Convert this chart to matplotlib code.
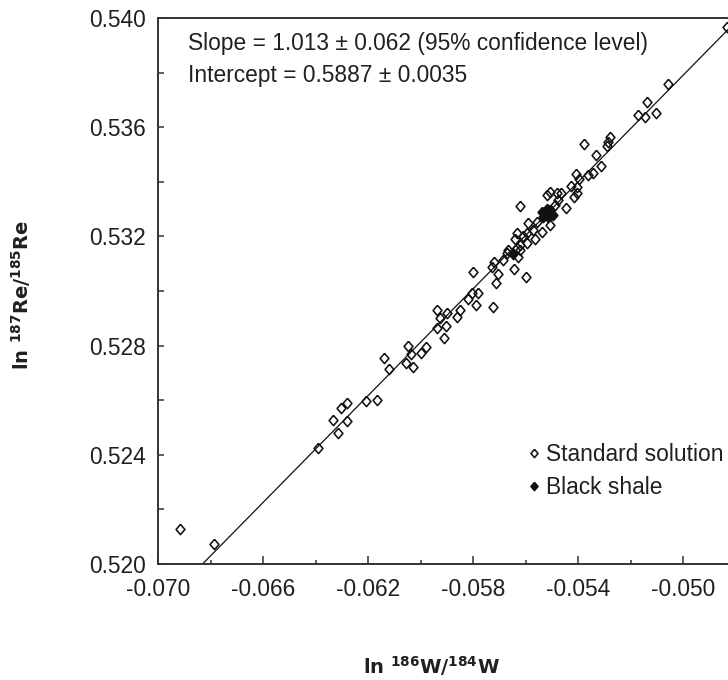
import matplotlib
matplotlib.use("Agg")
import matplotlib.pyplot as plt
import numpy as np
from matplotlib.ticker import FixedLocator, FormatStrFormatter

# ---------------- data ----------------
std_x = [-0.06916, -0.06787, -0.06390, -0.06333, -0.06314, -0.06303, -0.06280, -0.06280,
         -0.06208, -0.06166, -0.06139, -0.06120, -0.06055, -0.06048, -0.06036, -0.06029,
         -0.05998, -0.05979, -0.05937, -0.05926, -0.05937, -0.05911, -0.05903, -0.05899,
         -0.05861, -0.05850, -0.05819, -0.05804, -0.05781, -0.05789, -0.05800, -0.05724,
         -0.05728, -0.05720, -0.05705, -0.05712, -0.05686, -0.05644, -0.05670, -0.05598,
         -0.05621, -0.05632, -0.05667, -0.05629, -0.05621, -0.05632, -0.05640, -0.05610,
         -0.05594, -0.05571, -0.05594, -0.05564, -0.05537, -0.05507, -0.05590, -0.05556,
         -0.05621, -0.05488, -0.05476, -0.05518, -0.05507, -0.05480, -0.05465, -0.05446,
         -0.05415, -0.05404, -0.05427, -0.05404, -0.05408, -0.05396, -0.05362, -0.05343,
         -0.05312, -0.05331, -0.05377, -0.05290, -0.05286, -0.05278, -0.05171, -0.05145,
         -0.05137, -0.05103, -0.05057, -0.04832]
std_y = [0.52128, 0.52073, 0.52425, 0.52527, 0.52480, 0.52571, 0.52590, 0.52524,
         0.52597, 0.52601, 0.52755, 0.52714, 0.52736, 0.52799, 0.52769, 0.52722,
         0.52773, 0.52795, 0.52930, 0.52901, 0.52864, 0.52828, 0.52872, 0.52919,
         0.52905, 0.52930, 0.52971, 0.52993, 0.52993, 0.52949, 0.53070, 0.52941,
         0.53088, 0.53106, 0.53062, 0.53029, 0.53114, 0.53081, 0.53139, 0.53051,
         0.53168, 0.53158, 0.53150, 0.53125, 0.53150, 0.53212, 0.53190, 0.53201,
         0.53212, 0.53223, 0.53176, 0.53190, 0.53216, 0.53242, 0.53249, 0.53253,
         0.53311, 0.53315, 0.53333, 0.53352, 0.53363, 0.53359, 0.53359, 0.53304,
         0.53344, 0.53359, 0.53385, 0.53381, 0.53429, 0.53410, 0.53425, 0.53432,
         0.53458, 0.53498, 0.53538, 0.53531, 0.53546, 0.53564, 0.53645, 0.53637,
         0.53692, 0.53652, 0.53758, 0.53967]

shale_x = [-0.05537, -0.05507, -0.05514, -0.05495, -0.05533, -0.05520, -0.05648]
shale_y = [0.53289, 0.53297, 0.53271, 0.53278, 0.53271, 0.53300, 0.53136]

line_slope = 0.978
line_intercept = 0.5868

xlim = (-0.070, -0.048)
ylim = (0.520, 0.540)
x_major = [-0.070, -0.066, -0.062, -0.058, -0.054, -0.050]
x_minor = [-0.068, -0.064, -0.060, -0.056, -0.052]
y_major = [0.520, 0.524, 0.528, 0.532, 0.536, 0.540]
y_minor = [0.522, 0.526, 0.530, 0.534, 0.538]

annot_lines = ["Slope = 1.013 \u00b1 0.062 (95% confidence level)",
               "Intercept = 0.5887 \u00b1 0.0035"]
legend_labels = ["Standard solution", "Black shale"]
xlabel = r"$\mathbf{ln}\ {}^{\mathbf{186}}\mathbf{W/}{}^{\mathbf{184}}\mathbf{W}$"
ylabel = r"$\mathbf{ln}\ {}^{\mathbf{187}}\mathbf{Re/}{}^{\mathbf{185}}\mathbf{Re}$"

# ---------------- style ----------------
TXT = "#231f20"
plt.rcParams["font.family"] = ["Liberation Sans", "DejaVu Sans"]
plt.rcParams["mathtext.fontset"] = "custom"
plt.rcParams["mathtext.bf"] = "DejaVu Sans:bold"
plt.rcParams["mathtext.rm"] = "DejaVu Sans"

W, H = 728, 680
fig = plt.figure(figsize=(W / 100, H / 100), dpi=100)
left_px, bottom_px, top_px = 158, 564, 18
right_px = left_px + (xlim[1] - xlim[0]) / (0.004 / 105.0)
ax = fig.add_axes([left_px / W, 1 - bottom_px / H,
                   (right_px - left_px) / W, (bottom_px - top_px) / H])
ax.set_xlim(*xlim)
ax.set_ylim(*ylim)

diamond = [(0, 1), (0.86, 0), (0, -1), (-0.86, 0), (0, 1)]

xx = np.array(xlim)
ax.plot(xx, line_slope * xx + line_intercept, color="#111111", lw=0.9, zorder=2)

ax.plot(std_x, std_y, linestyle="none", marker=diamond, markersize=7.4,
        markerfacecolor="none", markeredgecolor="#111111", markeredgewidth=1.15,
        zorder=3, label=legend_labels[0])
ax.plot(shale_x, shale_y, linestyle="none", marker=diamond, markersize=7.4,
        markerfacecolor="#111111", markeredgecolor="#111111", markeredgewidth=1.15,
        zorder=4, label=legend_labels[1])

for sp in ax.spines.values():
    sp.set_linewidth(1.4)
    sp.set_color("#333333")

ax.xaxis.set_major_locator(FixedLocator(x_major))
ax.xaxis.set_minor_locator(FixedLocator(x_minor))
ax.yaxis.set_major_locator(FixedLocator(y_major))
ax.yaxis.set_minor_locator(FixedLocator(y_minor))
ax.xaxis.set_major_formatter(FormatStrFormatter("%.3f"))
ax.yaxis.set_major_formatter(FormatStrFormatter("%.3f"))
ax.tick_params(axis="both", which="both", direction="in", colors="#333333",
               labelcolor=TXT, labelsize=16.4, width=1.1)
ax.tick_params(axis="x", which="major", length=5.5, pad=10)
ax.tick_params(axis="x", which="minor", length=3)
ax.tick_params(axis="y", which="major", length=4.5, pad=9)
ax.tick_params(axis="y", which="minor", length=4.5)
ax.tick_params(top=False, right=False, which="both")

ax.text(0.052, 0.9414, annot_lines[0], transform=ax.transAxes, fontsize=16.4,
        color=TXT, va="baseline", ha="left")
ax.text(0.052, 0.8828, annot_lines[1], transform=ax.transAxes, fontsize=16.4,
        color=TXT, va="baseline", ha="left")

leg = ax.legend(loc="center left", bbox_to_anchor=(0.639, 0.170), frameon=False,
                fontsize=16.4, handlelength=0.6, handletextpad=0.25,
                labelspacing=0.45, borderpad=0, borderaxespad=0, markerscale=0.8)
for t in leg.get_texts():
    t.set_color(TXT)

fig.text(431 / W, 1 - 666 / H, xlabel, fontsize=14, color=TXT,
         ha="center", va="center")
fig.text(21 / W, 1 - 295 / H, ylabel, fontsize=14, color=TXT,
         ha="center", va="center", rotation=90)

fig.savefig("out.png", dpi=100)
